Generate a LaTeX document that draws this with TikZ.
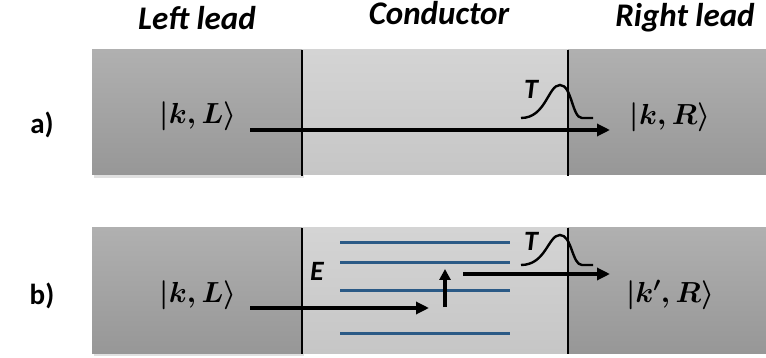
\documentclass[tikz,border=0pt]{standalone}
\usepackage{fix-cm}
\usepackage{fontspec}
\setmainfont{Carlito}
\usetikzlibrary{arrows.meta}
\definecolor{leadtop}{HTML}{B0B0B0}
\definecolor{leadbot}{HTML}{979797}
\definecolor{condtop}{HTML}{D4D4D4}
\definecolor{condbot}{HTML}{C6C6C6}
\definecolor{level}{HTML}{2B5A86}
\begin{document}
\begin{tikzpicture}[x=1pt,y=-1pt,
  lead/.style={top color=leadtop,bottom color=leadbot,draw=none},
  cond/.style={top color=condtop,bottom color=condbot,draw=none},
  heading/.style={font=\fontsize{33}{36}\selectfont\bfseries\itshape},
  panel/.style={font=\fontsize{29}{32}\selectfont\bfseries},
  ket/.style={font=\fontsize{29}{31}\selectfont\boldmath},
  sym/.style={font=\fontsize{28}{30}\selectfont\bfseries\itshape},
  wall/.style={line width=2pt,black},
  flow/.style={line width=3.2pt,-{Triangle[length=13pt,width=12pt]}},
  lvl/.style={line width=3pt,level},
  bump/.style={line width=2.4pt}]
\useasboundingbox (0,0) rectangle (766,358);
% headings
\node[heading] (hl) at (197,18) {Left lead};
\node[heading] (hc) at (439,13) {Conductor};
\node[heading] (hr) at (685,18) {Right lead};
% panel a
\fill[black!12] (94,52) rectangle (304,178);
\fill[lead] (92,50) rectangle (302,175);
\fill[cond] (302,50) rectangle (568,175);
\fill[lead] (568,50) rectangle (766,175);
\draw[wall] (302,50) -- (302,176);
\draw[wall] (568,50) -- (568,176);
\node[panel] (pa) at (42,125) {a)};
\node[ket] (kLa) at (198,116) {$|k,L\rangle$};
\node[ket] (kRa) at (670,117) {$|k,R\rangle$};
\coordinate (a1) at (250,130);
\coordinate (a2) at (610,130);
\draw[flow] (a1) -- (a2);
\node[sym] (Ta) at (531,89) {T};
\coordinate (ba) at (521,118);
\draw[bump] (ba) .. controls +(25,0) and +(-12,0) .. ++(39,-33) .. controls +(12,0) and +(-10,0) .. ++(22,33) -- ++(11,0);
% panel b
\fill[black!12] (94,230) rectangle (304,356);
\fill[lead] (92,228) rectangle (302,353);
\fill[cond] (302,228) rectangle (568,353);
\fill[lead] (568,228) rectangle (766,353);
\draw[wall] (302,228) -- (302,354);
\draw[wall] (568,228) -- (568,354);
\node[panel] (pb) at (42,296) {b)};
\node[ket] (kLb) at (198,295) {$|k,L\rangle$};
\node[ket] (kRb) at (670,295) {$|k',R\rangle$};
\foreach \yy/\nm in {243/l1,263/l2,290/l3,333/l4}{
  \coordinate (\nm s) at (340,\yy);
  \coordinate (\nm e) at (510,\yy);
  \draw[lvl] (\nm s) -- (\nm e);
}
\node[sym] (Eb) at (317,271) {E};
\coordinate (b1) at (250,308);
\coordinate (b2) at (429,308);
\coordinate (b3) at (445,307);
\coordinate (b4) at (445,269);
\coordinate (b5) at (463,274);
\coordinate (b6) at (610,274);
\draw[flow] (b1) -- (b2);
\draw[line width=3.2pt,-{Triangle[length=11pt,width=11pt]}] (b3) -- (b4);
\draw[flow] (b5) -- (b6);
\node[sym] (Tb) at (531,241) {T};
\coordinate (bb) at (521,265);
\draw[bump] (bb) .. controls +(25,0) and +(-12,0) .. ++(39,-30) .. controls +(12,0) and +(-10,0) .. ++(22,30) -- ++(11,0);
\end{tikzpicture}
\end{document}
